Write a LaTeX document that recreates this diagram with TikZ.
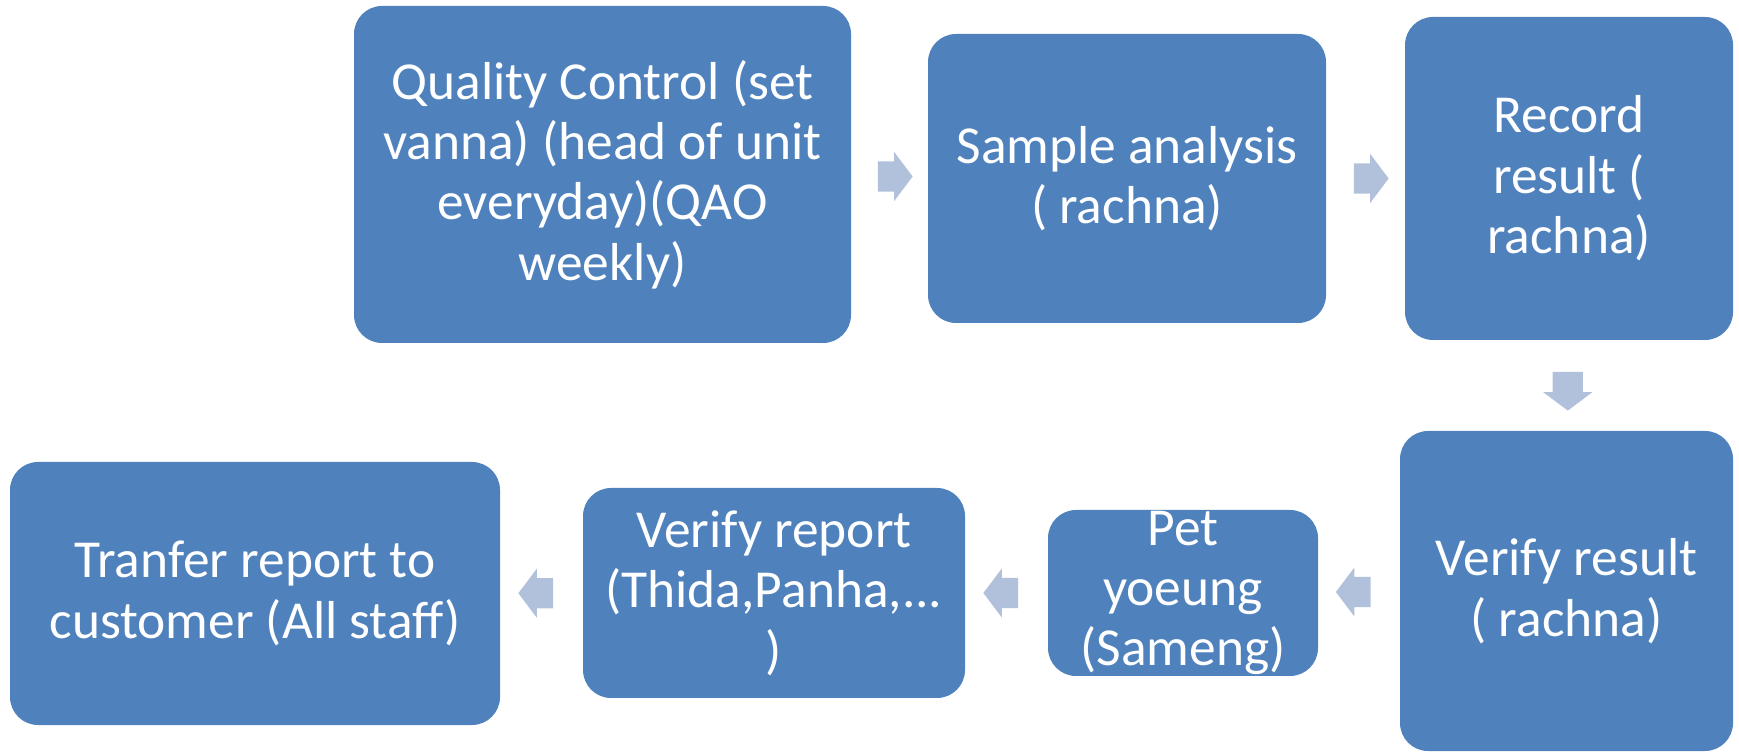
\documentclass[tikz,border=0pt]{standalone}
\usepackage{fontspec}
\setmainfont{Carlito}
\usepackage{tikz}
\usetikzlibrary{shapes.arrows,calc}
\definecolor{stepblue}{HTML}{4F81BD}
\definecolor{arrowblue}{HTML}{B2C1DB}
\tikzset{
	flowblock/.style = {
		rectangle,
		align = center,
		rounded corners = 2.8mm,
		fill = stepblue,
		text = white,
		inner sep = 0pt,
		font = \fontsize{15.2}{17.2}\selectfont,
	},
	blockarrow/.style = {
		single arrow,
		fill = arrowblue,
		inner sep = 0pt,
		single arrow head extend = 0.95mm,
		single arrow tip angle = 106,
		shape border rotate = #1,
	}
}
\newcommand{\hshaft}{\hbox to 2.2mm{\rule{0pt}{2.9mm}\hss}}
\newcommand{\vshaft}{\hbox to 2.9mm{\rule{0pt}{2.6mm}\hss}}
\begin{document}
\begin{tikzpicture}
	\useasboundingbox (0,0) rectangle (17.39,7.51);
	\node[flowblock, minimum width = 4.97cm, minimum height = 3.37cm](quality) at (6.025,5.765){Quality Control (set\\vanna) (head of unit\\everyday)(QAO\\weekly)};
	\node[flowblock, minimum width = 3.98cm, minimum height = 2.89cm](sample) at (11.27,5.725){Sample analysis\\( rachna)};
	\node[flowblock, minimum width = 3.28cm, minimum height = 3.23cm](record) at (15.69,5.725){Record\\result (\\rachna)};
	\node[flowblock, minimum width = 3.33cm, minimum height = 3.20cm](verifyres) at (15.665,1.60){Verify result\\( rachna)};
	\node[flowblock, minimum width = 2.70cm, minimum height = 1.66cm](pet) at (11.83,1.58){Pet\\yoeung\\(Sameng)};
	\node[flowblock, minimum width = 3.82cm, minimum height = 2.10cm](verifyrep) at (7.74,1.58){Verify report\\(Thida,Panha,...\\)};
	\node[flowblock, minimum width = 4.90cm, minimum height = 2.63cm](transfer) at (2.55,1.575){Tranfer report to\\customer (All staff)};
	
	\node[blockarrow=0](a1) at ($(quality.east)!0.5!(sample.west)$){\hshaft};
	\node[blockarrow=0](a2) at ($(sample.east)!0.5!(record.west)$){\hshaft};
	\node[blockarrow=270](a3) at ($(record.south)!0.5!(verifyres.north)$){\vshaft};
	\node[blockarrow=180](a4) at ($(verifyres.west)!0.5!(pet.east)$){\hshaft};
	\node[blockarrow=180](a5) at ($(pet.west)!0.5!(verifyrep.east)$){\hshaft};
	\node[blockarrow=180](a6) at ($(verifyrep.west)!0.5!(transfer.east)$){\hshaft};
\end{tikzpicture}
\end{document}
